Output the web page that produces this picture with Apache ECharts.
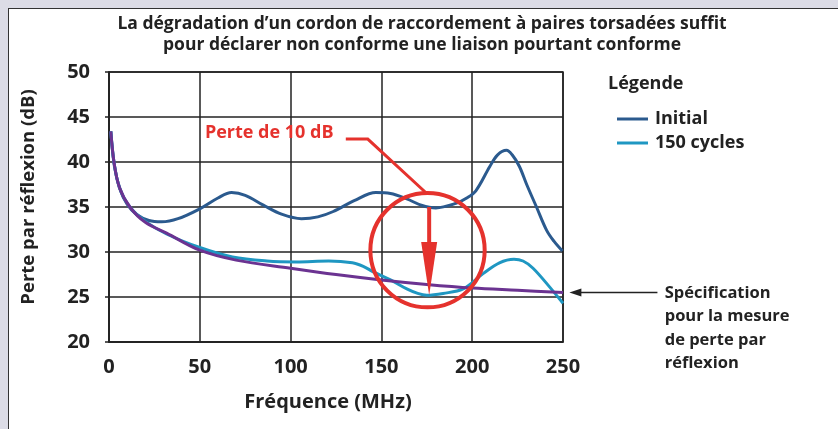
<!DOCTYPE html>
<html><head><meta charset="utf-8">
<script src="https://cdn.jsdelivr.net/npm/echarts@6/dist/echarts.min.js"></script>
<style>
html,body{margin:0;padding:0;background:#dcdce6;}
#frame{position:absolute;left:8px;top:8px;width:830px;height:421px;background:#fff;border-left:1.5px solid #333;border-top:1.5px solid #333;}
#c{position:absolute;left:0;top:0;width:838px;height:429px;}
</style>
</head><body>
<div id="frame"></div>
<div id="c"></div>
<script>
const titleLines = ["La dégradation d\u2019un cordon de raccordement à paires torsadées suffit", "pour déclarer non conforme une liaison pourtant conforme"];
const xTicks = [0, 50, 100, 150, 200, 250];
const yTicks = [20, 25, 30, 35, 40, 45, 50];

const initialX = [1, 3, 6, 10, 15, 22, 29, 38, 50, 60, 67.5, 75, 85, 95, 106, 115, 123.5, 135, 147, 155, 164, 172, 180, 191, 197, 202, 209.7, 214, 218.9, 222, 226, 230, 235.4, 241, 245, 249.7];
const initialY = [43.4, 39.5, 37, 35.3, 34.2, 33.5, 33.35, 33.7, 34.8, 36.0, 36.6, 36.3, 35.2, 34.2, 33.7, 33.9, 34.5, 35.7, 36.6, 36.5, 35.9, 35.2, 34.9, 35.4, 36.0, 36.8, 39.5, 40.8, 41.3, 40.8, 39.5, 37.5, 35.0, 32.4, 31.2, 30.1];

const cyclesX = [1, 2.75, 5.7, 11.5, 20, 31.7, 50, 68, 87, 103, 121, 134, 140, 145.5, 155, 164, 170, 175, 184, 195, 206, 215, 223, 228, 233.5, 242.7, 250];
const cyclesY = [43.4, 40, 37.2, 35, 33.4, 32, 30.5, 29.45, 29, 28.9, 29, 28.8, 28.4, 27.8, 26.9, 25.9, 25.4, 25.2, 25.4, 25.9, 27.6, 28.8, 29.2, 29.0, 28.2, 26.1, 24.3];

const specX = [1, 2.75, 5.7, 11.5, 20, 31.7, 50, 70, 100, 125, 150, 175, 200, 225, 250];
const specY = [43.4, 40, 37.2, 35, 33.3, 32.1, 30.2, 29.1, 28.2, 27.5, 26.9, 26.4, 26.0, 25.75, 25.5];

const seriesNames = ["Initial", "150 cycles", "Spécification"];
const legendTitle = "Légende";
const annotText = "Perte de 10 dB";
const specText = ["Spécification", "pour la mesure", "de perte par", "réflexion"];

// annotation anchors in data coordinates
const annotTextPos = [52.8, 43.2];
const annotLine = [[130.4, 42.55], [142.5, 42.55], [175, 36.5]];
const circleCenter = [175.4, 30.2];
const arrowTop = [176.3, 35.0];
const arrowBottom = [176.3, 25.2];
const arrowHeadStart = 31.1;
const specArrowTip = [253.5, 25.5];
const specArrowEnd = [302, 25.5];
const specTextPos = [306, 25.5];

const zip = (a, b) => a.map((v, i) => [v, b[i]]);
const FONT = "'Open Sans', 'Noto Sans', sans-serif";
const red = '#e5322d';

const chart = echarts.init(document.getElementById('c'), null, {renderer: 'canvas'});
const option = {
  animation: false,
  backgroundColor: 'transparent',
  title: {
    text: titleLines.join('\n'),
    left: 417, top: 9, textAlign: 'center',
    textStyle: {fontFamily: FONT, fontSize: 17.5, fontWeight: 'bold', color: '#222', lineHeight: 21}
  },
  grid: {left: 109, right: 275, top: 72, bottom: 87, show: true, borderColor: '#222', borderWidth: 1.5, backgroundColor: 'transparent'},
  legend: {
    data: seriesNames.slice(0, 2),
    orient: 'vertical', left: 612, top: 105, itemWidth: 31, itemHeight: 3, itemGap: 6,
    icon: 'rect',
    textStyle: {fontFamily: FONT, fontSize: 18, fontWeight: 'bold', color: '#222', padding: [0, 0, 0, 2]}
  },
  xAxis: {
    type: 'value', min: 0, max: 250, interval: 50,
    name: 'Fréquence (MHz)', nameLocation: 'middle', nameGap: 50,
    nameTextStyle: {fontFamily: FONT, fontSize: 20, fontWeight: 'bold', color: '#222', padding: [0, 16, 0, 0]},
    axisLine: {lineStyle: {color: '#222', width: 1.5}},
    axisTick: {show: false},
    splitLine: {lineStyle: {color: '#222', width: 1.5}},
    axisLabel: {fontFamily: FONT, fontSize: 20, fontWeight: 'bold', color: '#222', margin: 15,
      formatter: v => xTicks.includes(v) ? String(v) : ''}
  },
  yAxis: {
    type: 'value', min: 20, max: 50, interval: 5,
    name: 'Perte par réflexion (dB)', nameLocation: 'middle', nameGap: 71,
    nameTextStyle: {fontFamily: FONT, fontSize: 18.5, fontWeight: 'bold', color: '#222', padding: [0, 0, 0, 20]},
    axisLine: {lineStyle: {color: '#222', width: 1.5}},
    axisTick: {show: true, length: 4, lineStyle: {color: '#222', width: 1.5}},
    splitLine: {lineStyle: {color: '#222', width: 1.5}},
    axisLabel: {fontFamily: FONT, fontSize: 20, fontWeight: 'bold', color: '#222', margin: 19,
      formatter: v => yTicks.includes(v) ? String(v) : ''}
  },
  series: [
    {name: seriesNames[0], type: 'line', data: zip(initialX, initialY), smooth: 0.35, showSymbol: false,
      lineStyle: {color: '#2b5a8e', width: 3}, itemStyle: {color: '#2b5a8e'}, z: 2},
    {name: seriesNames[1], type: 'line', data: zip(cyclesX, cyclesY), smooth: 0.35, showSymbol: false,
      lineStyle: {color: '#1f97c2', width: 3}, itemStyle: {color: '#1f97c2'}, z: 3},
    {name: seriesNames[2], type: 'line', data: zip(specX, specY), smooth: 0.35, showSymbol: false,
      lineStyle: {color: '#6b3391', width: 3}, itemStyle: {color: '#6b3391'}, z: 4}
  ]
};
chart.setOption(option);

function P(pt) { return chart.convertToPixel({gridIndex: 0}, pt); }
const tp = P(annotTextPos);
const lp = annotLine.map(P);
const cc = P(circleCenter);
const at = P(arrowTop), ab = P(arrowBottom), ah = P([arrowTop[0], arrowHeadStart]);
const st = P(specArrowTip), se = P(specArrowEnd), sp = P(specTextPos);
const radius = (P([0, 20])[1] - P([0, 26.35])[1]);

chart.setOption({
  graphic: [
    {type: 'text', left: 608, top: 75, style: {text: legendTitle, font: "bold 18px " + FONT, fill: '#222'}},
    {type: 'text', x: tp[0], y: tp[1], style: {text: annotText, font: "bold 18px " + FONT, fill: red, textVerticalAlign: 'middle'}, z: 10},
    {type: 'polyline', shape: {points: lp}, style: {stroke: red, lineWidth: 3, fill: null}, z: 10},
    {type: 'circle', shape: {cx: cc[0], cy: cc[1], r: radius}, style: {stroke: red, lineWidth: 4, fill: null}, z: 10},
    {type: 'line', shape: {x1: at[0], y1: at[1], x2: at[0], y2: ah[1]}, style: {stroke: red, lineWidth: 4}, z: 10},
    {type: 'polygon', shape: {points: [[ah[0] - 8, ah[1]], [ah[0] + 8, ah[1]], [ab[0], ab[1]]]}, style: {fill: red}, z: 10},
    {type: 'line', shape: {x1: st[0] + 8, y1: st[1], x2: se[0], y2: se[1]}, style: {stroke: '#222', lineWidth: 1.5}, z: 10},
    {type: 'polygon', shape: {points: [[st[0], st[1]], [st[0] + 12, st[1] - 4], [st[0] + 12, st[1] + 4]]}, style: {fill: '#222'}, z: 10},
    {type: 'text', x: sp[0], y: sp[1] - 11, style: {text: specText.join('\n'), font: "bold 16.5px " + FONT, lineHeight: 23.5, fill: '#222'}, z: 10}
  ]
});
</script>
</body></html>
